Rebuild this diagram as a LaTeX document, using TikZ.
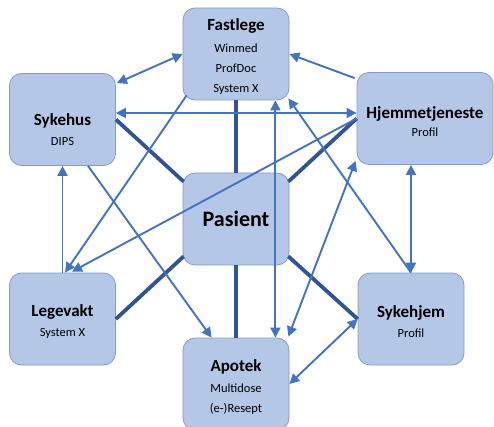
\documentclass[tikz,border=0pt]{standalone}
\usepackage{fontspec}
\setmainfont{Carlito}
\usetikzlibrary{arrows.meta,calc}
\definecolor{boxfill}{HTML}{B4C7E7}
\definecolor{boxline}{HTML}{7F9DCB}
\definecolor{msgblue}{HTML}{4472C4}
\definecolor{tieblue}{HTML}{2F5597}
\newcommand{\ttl}[1]{{\fontsize{17}{20}\selectfont\bfseries\rule{0pt}{18pt}#1}}
\tikzset{
  actor/.style     = {shape=rectangle, rounded corners=12pt,
                      draw=boxline, fill=boxfill, line width=0.8pt,
                      align=center, inner sep=0pt,
                      minimum width=106pt, minimum height=92pt,
                      font=\fontsize{12.5}{20}\selectfont},
  actorwide/.style = {actor, minimum width=136pt},
  patient/.style   = {actor, font=\fontsize{22}{26}\selectfont\bfseries},
  tie/.style       = {draw=tieblue, line width=3.8pt},
  msg/.style       = {draw=msgblue, line width=1.9pt,
                      -{Triangle[length=10pt,width=10pt]}},
  msgboth/.style   = {msg, {Triangle[length=10pt,width=10pt]}-{Triangle[length=10pt,width=10pt]}}
}

\begin{document}
\begin{tikzpicture}[x=1pt,y=-1pt]
 \useasboundingbox (0,0) rectangle (494,427);

 \node [actor]     (fastlege) at (236,54)    {\ttl{Fastlege}\\[2pt]Winmed\\ProfDoc\\System X};
 \node [actor]     (sykehus)  at (62.5,119.5) {\mbox{}\\[12pt]\ttl{Sykehus}\\DIPS};
 \node [actorwide] (hjemme)   at (425,118.5) {\ttl{Hjemmetjeneste}\\[-2pt]Profil};
 \node [patient]   (pasient)  at (236,219)   {Pasient};
 \node [actor]     (legevakt) at (62.5,319)  {\ttl{Legevakt}\\System X};
 \node [actor]     (sykehjem) at (411,319)   {\ttl{Sykehjem}\\Profil};
 \node [actor]     (apotek)   at (236,384)   {\ttl{Apotek}\\[1pt]Multidose\\(e-)Resept};

 \draw [tie] (fastlege.south) -- (pasient.north);
 \draw [tie] (apotek.north) -- (pasient.south);
 \draw [tie] (sykehus.east) -- ($(pasient.north west)+(1,9)$);
 \draw [tie] (hjemme.west) -- ($(pasient.north east)+(-1,9)$);
 \draw [tie] (legevakt.east) -- ($(pasient.south west)+(1,-9)$);
 \draw [tie] (sykehjem.west) -- ($(pasient.south east)+(-1,-9)$);

 \draw [msgboth] (fastlege.west) -- ($(sykehus.north east)+(1,10)$);
 \draw [msg] ($(hjemme.north west)+(-2,6)$) -- (fastlege.east);
 \draw [msgboth] ($(sykehus.east)+(0,-6.5)$) -- ($(hjemme.west)+(0,-5.5)$);
 \draw [msg] ($(fastlege.south west)+(4,-5)$) -- ($(legevakt.north)+(2.5,0)$);
 \draw [msg] (hjemme.west) -- ($(legevakt.north)+(9.5,-1)$);
 \draw [msg] (legevakt.north) -- (sykehus.south);
 \draw [msg] ($(sykehus.south)+(25.5,0)$) -- ($(apotek.north west)+(29,0)$);
 \draw [msgboth] ($(apotek.north east)+(-1,-1)$) -- ($(hjemme.south west)+(-1,-4)$);
 \draw [msgboth] ($(fastlege.south east)+(-14,0)$) -- ($(apotek.north east)+(-14,0)$);
 \draw [msg] (sykehjem.north) -- ($(fastlege.south east)+(-1,-2)$);
 \draw [msgboth] (sykehjem.north |- hjemme.south) -- (sykehjem.north);
 \draw [msgboth] (apotek.east) -- (sykehjem.west);
\end{tikzpicture}
\end{document}
